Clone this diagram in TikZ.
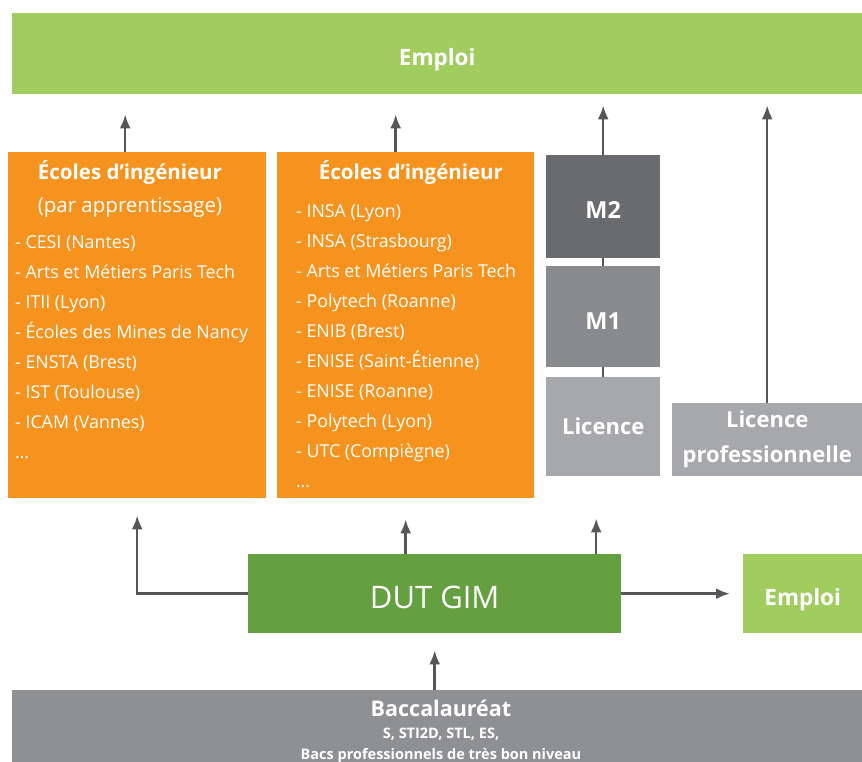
\documentclass[tikz,border=0pt]{standalone}
\usepackage{fontspec}
\setmainfont{Open Sans}
\usetikzlibrary{arrows.meta}
\definecolor{vertclair}{HTML}{A1CD5F}
\definecolor{vertfonce}{HTML}{64A03F}
\definecolor{orange}{HTML}{F5931E}
\definecolor{grisA}{HTML}{6A6B6F}
\definecolor{grisB}{HTML}{898A8E}
\definecolor{grisC}{HTML}{A7A8AB}
\definecolor{grisBac}{HTML}{8F9094}
\definecolor{fleche}{HTML}{55565A}
\tikzset{
	boite/.style={anchor=north west, inner sep=0pt, text=white, align=center},
	bas/.style={text depth=0pt, text height=#1},
	liste/.style={anchor=north west, inner sep=0pt, text=white, align=left, font=\fontsize{17.8}{30}\selectfont},
	fl/.style={draw=fleche, line width=2.5pt, -{Latex[length=14pt,width=11pt]}},
	lien/.style={draw=fleche, line width=2.5pt}
}
\begin{document}
\begin{tikzpicture}[x=1pt,y=-1pt]
	\useasboundingbox (0,0) rectangle (862,762);
	% boites
	\node[boite, bas=24pt, fill=vertclair, minimum width=850pt, minimum height=81pt, font=\fontsize{22.5}{24}\selectfont\bfseries] (emploiHaut) at (12,13) {Emploi};
	\node[boite, fill=orange, minimum width=258pt, minimum height=346pt] (ecoleApp) at (8,152) {};
	\node[boite, fill=orange, minimum width=257pt, minimum height=346pt] (ecoleIng) at (277,152) {};
	\node[boite, bas=24.5pt, fill=grisA, minimum width=114pt, minimum height=103pt, font=\fontsize{23.5}{24}\selectfont\bfseries] (mDeux) at (546,155) {M2};
	\node[boite, bas=25.5pt, fill=grisB, minimum width=114pt, minimum height=101pt, font=\fontsize{23.5}{24}\selectfont\bfseries] (mUn) at (546,266) {M1};
	\node[boite, fill=grisC, minimum width=114pt, minimum height=99pt, font=\fontsize{22}{24}\selectfont\bfseries] (licence) at (546,377) {Licence};
	\node[boite, fill=grisC, minimum width=190pt, minimum height=73pt, font=\fontsize{22}{35}\selectfont\bfseries] (licPro) at (672,403) {Licence\\professionnelle};
	\node[boite, bas=30pt, fill=vertfonce, minimum width=373pt, minimum height=79pt, font=\fontsize{31}{32}\selectfont] (dut) at (248,554) {DUT GIM};
	\node[boite, bas=24pt, fill=vertclair, minimum width=119pt, minimum height=79pt, font=\fontsize{22.5}{24}\selectfont\bfseries] (emploiDroite) at (743,554) {Emploi};
	\node[boite, fill=grisBac, minimum width=850pt, minimum height=72pt] (bac) at (12,690) {};
	% textes des ecoles
	\node[text=white, inner sep=0pt, align=center, font=\fontsize{20.5}{33}\selectfont] (ecoleAppTitre) at (130,188.5) {\bfseries Écoles d’ingénieur\\(par apprentissage)};
	\node[liste] (ecoleAppListe) at (15,235) {- CESI (Nantes)\\- Arts et Métiers Paris Tech\\- ITII (Lyon)\\- Écoles des Mines de Nancy\\- ENSTA (Brest)\\- IST (Toulouse)\\- ICAM (Vannes)\\…};
	\node[text=white, inner sep=0pt, font=\fontsize{20.5}{24}\selectfont\bfseries] (ecoleIngTitre) at (411,172) {Écoles d’ingénieur};
	\node[liste] (ecoleIngListe) at (296,204) {- INSA (Lyon)\\- INSA (Strasbourg)\\- Arts et Métiers Paris Tech\\- Polytech (Roanne)\\- ENIB (Brest)\\- ENISE (Saint-Étienne)\\- ENISE (Roanne)\\- Polytech (Lyon)\\- UTC (Compiègne)\\…};
	% texte du bac
	\node[text=white, inner sep=0pt, font=\fontsize{21.5}{24}\selectfont\bfseries] (bacTitre) at (441,708) {Baccalauréat};
	\node[text=white, inner sep=0pt, align=center, font=\fontsize{14.5}{21}\selectfont\bfseries] (bacTexte) at (441,745) {S, STI2D, STL, ES,\\Bacs professionnels de très bon niveau};
	% fleches
	\draw[fl, shorten >=20pt] ([xshift=-12pt]ecoleApp.north) -- ([xshift=-12pt]ecoleApp.north |- emploiHaut.south);
	\draw[fl, shorten >=20pt] ([xshift=-10pt]ecoleIng.north) -- ([xshift=-10pt]ecoleIng.north |- emploiHaut.south);
	\draw[fl, shorten >=11pt] (mDeux.north) -- (mDeux.north |- emploiHaut.south);
	\draw[fl, shorten >=11pt] (licPro.north) -- (licPro.north |- emploiHaut.south);
	\draw[lien] (licence.north) -- (mUn.south);
	\draw[lien] (mUn.north) -- (mDeux.south);
	\draw[fl, shorten >=17pt] (dut.west) -| (ecoleApp.south);
	\draw[fl, shorten >=21pt] (dut.north -| ecoleIng.south) -- (ecoleIng.south);
	\draw[fl, shorten >=42pt] ([xshift=-7pt]dut.north -| licence.south) -- ([xshift=-7pt]licence.south);
	\draw[fl, shorten >=13pt] (dut.east) -- (emploiDroite.west);
	\draw[fl, shorten >=17pt] (bac.north -| dut.south) -- (dut.south);
\end{tikzpicture}
\end{document}
